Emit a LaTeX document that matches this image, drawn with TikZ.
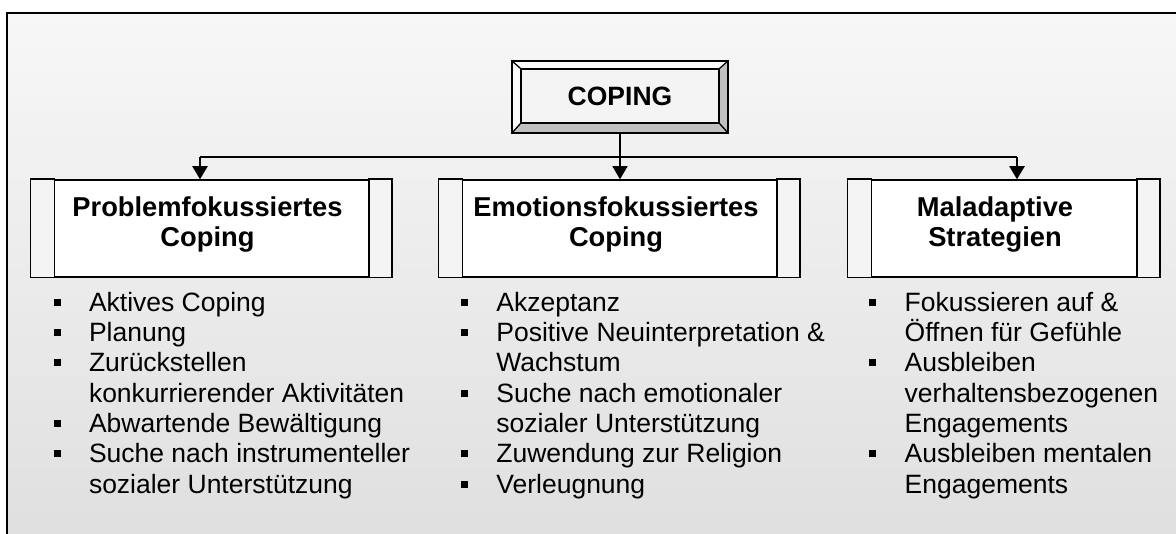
\documentclass[tikz,border=0pt]{standalone}
\usepackage{fontspec}
\setmainfont{Liberation Sans}
\usetikzlibrary{arrows.meta}
\definecolor{bgtop}{HTML}{F7F7F7}
\definecolor{bgbot}{HTML}{DFDFDF}
\definecolor{barfill}{HTML}{F4F4F4}
\definecolor{bevdark}{HTML}{C0C0C0}
\definecolor{bevlight}{HTML}{FBFBFB}
\definecolor{face}{HTML}{F4F4F4}
\newcommand{\bulletsq}{\makebox[35.5pt][l]{\raisebox{5.5pt}{\rule{7pt}{7pt}}}}
\newcommand{\contind}{\hspace*{35.5pt}}
\begin{document}
\begin{tikzpicture}[x=1pt,y=-1pt,
  boxmain/.style={draw, fill=white, line width=1.5pt, minimum height=97pt, inner sep=0pt},
  bar/.style={draw, fill=barfill, line width=1.5pt},
  titletext/.style={font=\fontsize{27.3}{30.5}\selectfont\bfseries, align=center, inner sep=0pt, anchor=north},
  bodytext/.style={font=\fontsize{26.5}{30.35}\selectfont, align=left, inner sep=0pt, anchor=north west},
  thinline/.style={line width=1.3pt},
  thickline/.style={line width=2.2pt},
  tip/.style={-{Triangle[width=15pt,length=13pt]}}]
\useasboundingbox (0,0) rectangle (1176,534);
\begin{scope}
\clip (0,0) rectangle (1176,534);
\shade[top color=bgtop,bottom color=bgbot] (7,13) rectangle (1190,545);
\draw[line width=2pt] (7,545) -- (7,13) -- (1190,13);
\end{scope}

% bevelled COPING box
\fill[bevlight] (512,61) -- (728,61) -- (719,69) -- (521,69) -- (521,123) -- (512,133) -- cycle;
\fill[bevdark] (728,61) -- (728,133) -- (512,133) -- (521,123) -- (719,123) -- (719,69) -- cycle;
\node[draw, thinline, minimum width=216pt, minimum height=72pt, inner sep=0pt] (copingframe) at (620,97) {};
\node[draw, thinline, fill=face, minimum width=198pt, minimum height=54pt, inner sep=0pt,
      font=\fontsize{26.5}{30}\selectfont\bfseries] (coping) at (620,96) {COPING};
\draw[thinline] (copingframe.north west) -- (coping.north west)
                (copingframe.north east) -- (coping.north east)
                (copingframe.south west) -- (coping.south west)
                (copingframe.south east) -- (coping.south east);

% category boxes
\node[boxmain, minimum width=360pt] (b1) at (211,228.5) {};
\node[boxmain, minimum width=360pt] (b2) at (619,228.5) {};
\node[boxmain, minimum width=311pt] (b3) at (1003.5,228.5) {};
\foreach \b/\l/\r in {b1/24/23, b2/24/23, b3/24/23}{
  \draw[bar] (\b.north west) rectangle ([xshift=\l pt]\b.south west);
  \draw[bar] (\b.north east) rectangle ([xshift=-\r pt]\b.south east);
}
\node[titletext] (t1) at (207.5,194) {\rule{0pt}{22pt}Problemfokussiertes\\Coping};
\node[titletext] (t2) at (616,194) {\rule{0pt}{22pt}Emotionsfokussiertes\\Coping};
\node[titletext] (t3) at (995,194) {\rule{0pt}{22pt}Maladaptive\\Strategien};

% connectors
\coordinate (j1) at (200,157);
\coordinate (j3) at (1017,157);
\draw[thickline] (j1) -- (j3);
\draw[thinline, tip] (copingframe.south) -- (copingframe.south |- b2.north);
\draw[thickline, tip] (j1) -- (j1 |- b1.north);
\draw[thickline, tip] (j3) -- (j3 |- b3.north);

% lists
\node[bodytext] (l1) at (53.3,286) {\rule{0pt}{25pt}\bulletsq Aktives Coping\\
\bulletsq Planung\\
\bulletsq Zurückstellen\\
\contind konkurrierender Aktivitäten\\
\bulletsq Abwartende Bewältigung\\
\bulletsq Suche nach instrumenteller\\
\contind sozialer Unterstützung};
\node[bodytext] (l2) at (460.7,286) {\rule{0pt}{25pt}\bulletsq Akzeptanz\\
\bulletsq Positive Neuinterpretation \&\\
\contind Wachstum\\
\bulletsq Suche nach emotionaler\\
\contind sozialer Unterstützung\\
\bulletsq Zuwendung zur Religion\\
\bulletsq Verleugnung};
\node[bodytext] (l3) at (869,286) {\rule{0pt}{25pt}\bulletsq Fokussieren auf \&\\
\contind Öffnen für Gefühle\\
\bulletsq Ausbleiben\\
\contind verhaltensbezogenen\\
\contind Engagements\\
\bulletsq Ausbleiben mentalen\\
\contind Engagements};
\end{tikzpicture}
\end{document}
